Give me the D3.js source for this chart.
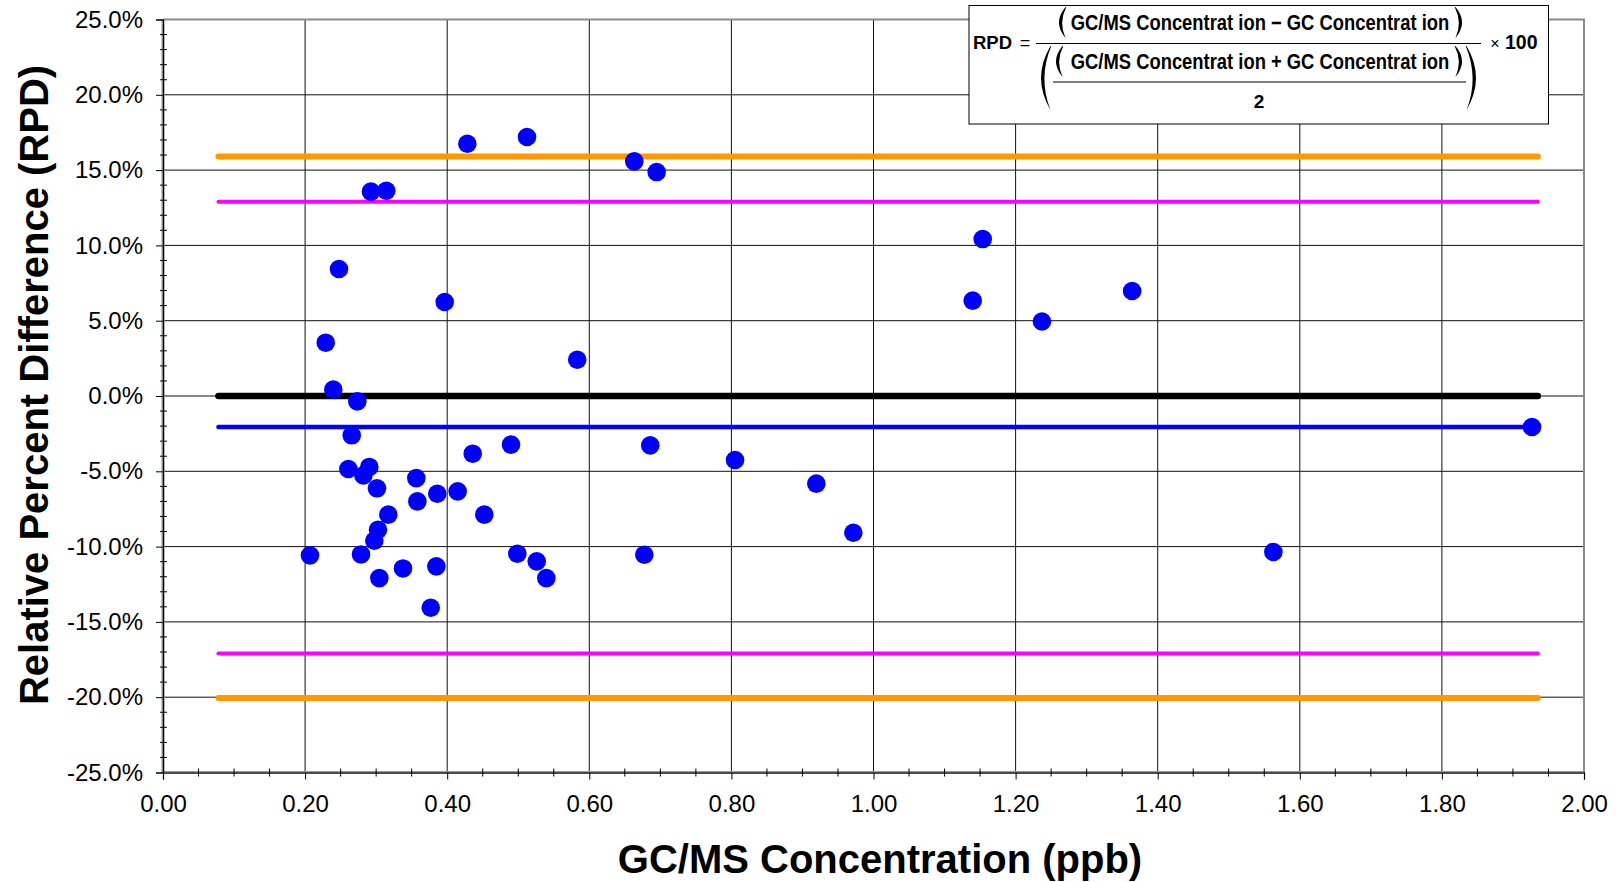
<!DOCTYPE html>
<html>
<head>
<meta charset="utf-8">
<script src="https://cdn.jsdelivr.net/npm/d3@7"></script>
<style>
  html, body { margin: 0; padding: 0; background: #fff; }
  svg { display: block; font-family: "Liberation Sans", Arial, sans-serif; }
</style>
</head>
<body>
<svg id="chart" width="1621" height="882"></svg>
<script>
// ---- Data ----------------------------------------------------------------
// GC/MS concentration (ppb) for each sample pair
const concentration = [
  0.2069, 0.2290, 0.2397, 0.2477, 0.2609, 0.2656, 0.2735, 0.2787, 0.2820, 0.2904,
  0.2927, 0.2974, 0.3012, 0.3026, 0.3045, 0.3143, 0.3171, 0.3378, 0.3565, 0.3580,
  0.3768, 0.3847, 0.3860, 0.3965, 0.4147, 0.4283, 0.4359, 0.4522, 0.4898, 0.4987,
  0.5123, 0.5260, 0.5395, 0.5830, 0.6633, 0.6774, 0.6858, 0.6948, 0.8051, 0.9195,
  0.9716, 1.1396, 1.1537, 1.2371, 1.3640, 1.5628, 1.9268
];
// Relative percent difference (%) for each sample pair
const rpd = [
  -10.58, 3.54, 0.42, 8.43, -4.85, -2.61, -0.36, -10.52, -5.27, -4.71,
  13.57, -9.61, -6.13, -8.88, -12.09, 13.63, -7.88, -11.45, -5.45, -7.00,
  -14.06, -11.31, -6.49, 6.24, -6.33, 16.75, -3.83, -7.88, -3.23, -10.47,
  17.20, -10.98, -12.09, 2.41, 15.58, -10.54, -3.28, 14.87, -4.25, -5.82,
  -9.08, 6.33, 10.42, 4.95, 6.97, -10.36, -2.06
];

// Horizontal statistic lines (% RPD) and their x extent (ppb)
const limitNames  = ["upperOuter", "upperInner", "zero", "mean", "lowerInner", "lowerOuter"];
const limitValues = [15.9, 12.9, 0.0, -2.06, -17.1, -20.05];
const limitStart = 0.078;
const limitEnd   = 1.935;

// Axis ticks
const xTicks = [0.0, 0.2, 0.4, 0.6, 0.8, 1.0, 1.2, 1.4, 1.6, 1.8, 2.0];
const yTicks = [-25, -20, -15, -10, -5, 0, 5, 10, 15, 20, 25];

// ---- Styles --------------------------------------------------------------
const limitStyle = {
  upperOuter: { color: "#FF9900", width: 6 },
  lowerOuter: { color: "#FF9900", width: 6 },
  upperInner: { color: "#FF00FF", width: 4 },
  lowerInner: { color: "#FF00FF", width: 4 },
  zero:       { color: "#000000", width: 6.5 },
  mean:       { color: "#0000FF", width: 4.5 }
};

// ---- Layout --------------------------------------------------------------
const plot = { left: 163, right: 1584, top: 19.5, bottom: 772.5 };
const svg = d3.select("#chart");

const x = d3.scaleLinear().domain([0, 2]).range([plot.left, plot.right]);
const y = d3.scaleLinear().domain([-25, 25]).range([plot.bottom, plot.top]);

// Gridlines
const grid = svg.append("g").attr("class", "grid");
grid.selectAll("line.h").data(yTicks).join("line")
  .attr("class", "h")
  .attr("x1", plot.left).attr("x2", plot.right)
  .attr("y1", d => y(d)).attr("y2", d => y(d))
  .attr("stroke", "#111").attr("stroke-width", 1);
grid.selectAll("line.v").data(xTicks).join("line")
  .attr("class", "v")
  .attr("x1", d => x(d)).attr("x2", d => x(d))
  .attr("y1", plot.top).attr("y2", plot.bottom)
  .attr("stroke", "#111").attr("stroke-width", 1);

// Plot frame (top and right edges in grey)
svg.append("path")
  .attr("d", `M${plot.left},${plot.top}H${plot.right}V${plot.bottom}`)
  .attr("fill", "none").attr("stroke", "#8a8a8a").attr("stroke-width", 2);

// Axis base lines
svg.append("line")
  .attr("x1", plot.left).attr("x2", plot.right)
  .attr("y1", plot.bottom).attr("y2", plot.bottom)
  .attr("stroke", "#999").attr("stroke-width", 3);
svg.append("line")
  .attr("x1", plot.left).attr("x2", plot.left)
  .attr("y1", plot.top).attr("y2", plot.bottom)
  .attr("stroke", "#999").attr("stroke-width", 3);

// Minor ticks crossing the axes
const xMinor = d3.range(0.05, 2.0, 0.05).filter(v => Math.abs(v * 5 - Math.round(v * 5)) > 1e-6);
const yMinor = d3.range(-24, 25, 1).filter(v => v % 5 !== 0);
svg.append("g").selectAll("line").data(xMinor).join("line")
  .attr("x1", d => x(d)).attr("x2", d => x(d))
  .attr("y1", plot.bottom - 4).attr("y2", plot.bottom + 4)
  .attr("stroke", "#000").attr("stroke-width", 1);
svg.append("g").selectAll("line").data(yMinor).join("line")
  .attr("x1", plot.left - 3).attr("x2", plot.left + 4)
  .attr("y1", d => y(d)).attr("y2", d => y(d))
  .attr("stroke", "#000").attr("stroke-width", 1);

// Major axes
const xAxis = svg.append("g")
  .attr("transform", `translate(0,${plot.bottom})`)
  .call(d3.axisBottom(x).tickValues(xTicks).tickSize(7).tickFormat(d3.format(".2f")));
const yAxis = svg.append("g")
  .attr("transform", `translate(${plot.left},0)`)
  .call(d3.axisLeft(y).tickValues(yTicks).tickSize(7).tickFormat(d => d.toFixed(1) + "%"));

[xAxis, yAxis].forEach(g => {
  g.select(".domain").attr("stroke", "#000").attr("stroke-width", 1.2);
  g.selectAll(".tick line").attr("stroke", "#000").attr("stroke-width", 1);
  g.selectAll(".tick text")
    .attr("fill", "#000")
    .style("font-family", "'Liberation Sans', Arial, sans-serif")
    .style("font-size", "24px");
});
xAxis.selectAll(".tick text").attr("y", 22);
yAxis.selectAll(".tick text").attr("x", -20);

// Statistic lines
const limits = limitNames.map((n, i) => ({ name: n, value: limitValues[i] }));
const drawOrder = ["upperOuter", "lowerOuter", "upperInner", "lowerInner", "zero", "mean"];
svg.append("g").selectAll("line")
  .data(drawOrder.map(n => limits.find(l => l.name === n)))
  .join("line")
  .attr("x1", x(limitStart)).attr("x2", x(limitEnd))
  .attr("y1", d => y(d.value)).attr("y2", d => y(d.value))
  .attr("stroke", d => limitStyle[d.name].color)
  .attr("stroke-width", d => limitStyle[d.name].width)
  .attr("stroke-linecap", "round");

// Sample points
const points = concentration.map((c, i) => ({ c, r: rpd[i] }));
svg.append("g").selectAll("circle").data(points).join("circle")
  .attr("cx", d => x(d.c))
  .attr("cy", d => y(d.r))
  .attr("r", 9.3)
  .attr("fill", "#0000FF");

// Axis titles
svg.append("text")
  .attr("transform", `translate(48,385) rotate(-90)`)
  .attr("text-anchor", "middle")
  .style("font-weight", "bold").style("font-size", "40px")
  .text("Relative Percent Difference (RPD)");
svg.append("text")
  .attr("x", 880).attr("y", 873)
  .attr("text-anchor", "middle")
  .style("font-weight", "bold").style("font-size", "40px")
  .text("GC/MS Concentration (ppb)");

// ---- RPD formula box -----------------------------------------------------
const fb = svg.append("g").attr("class", "formula");
fb.append("rect")
  .attr("x", 969).attr("y", 5.5).attr("width", 579.5).attr("height", 118.5)
  .attr("fill", "#fff").attr("stroke", "#000").attr("stroke-width", 1);

// crescent-shaped bracket
function paren(edgeX, top, bottom, w, t, open) {
  const mid = (top + bottom) / 2;
  const s = open ? 1 : -1;
  const endX = edgeX + s * w;
  return `M${endX},${top}` +
    `Q${edgeX - s * w},${mid} ${endX},${bottom}` +
    `Q${edgeX - s * w + s * 2 * t},${mid} ${endX + s * 0.8},${top}Z`;
}
function drawParen(edgeX, top, bottom, w, t, open) {
  fb.append("path").attr("d", paren(edgeX, top, bottom, w, t, open)).attr("fill", "#000");
}
// slightly tall bold term text, centred at (cx, baseline)
function termText(cx, baseline, str) {
  fb.append("text")
    .attr("transform", `translate(${cx},${baseline}) scale(1,1.15)`)
    .attr("text-anchor", "middle")
    .style("font-weight", "bold").style("font-size", "18.4px")
    .text(str);
}

fb.append("text").attr("x", 973).attr("y", 48.5)
  .style("font-weight", "bold").style("font-size", "18.5px").text("RPD");
fb.append("text").attr("x", 1025).attr("y", 48.5).attr("text-anchor", "middle")
  .style("font-size", "18px").text("=");

// numerator
drawParen(1059, 7, 38, 6.5, 3, true);
drawParen(1462, 7, 38, 6.5, 3, false);
termText(1260, 30, "GC/MS  Concentrat ion  \u2212  GC Concentrat ion");

// main fraction bar
fb.append("line").attr("x1", 1036).attr("x2", 1481).attr("y1", 43.5).attr("y2", 43.5)
  .attr("stroke", "#000").attr("stroke-width", 1);
fb.append("text").attr("x", 1495).attr("y", 48.5).attr("text-anchor", "middle")
  .style("font-size", "16px").text("\u00d7");
fb.append("text").attr("x", 1505).attr("y", 49)
  .style("font-weight", "bold").style("font-size", "19.5px").text("100");

// denominator
drawParen(1041, 46, 110, 9.5, 3.2, true);
drawParen(1476, 46, 110, 9.5, 3.2, false);
drawParen(1056, 46, 77, 6.5, 3, true);
drawParen(1462, 46, 77, 6.5, 3, false);
termText(1260, 69, "GC/MS  Concentrat ion  +  GC  Concentrat ion");
fb.append("line").attr("x1", 1053).attr("x2", 1466).attr("y1", 82).attr("y2", 82)
  .attr("stroke", "#000").attr("stroke-width", 1);
fb.append("text").attr("x", 1259).attr("y", 107.5).attr("text-anchor", "middle")
  .style("font-weight", "bold").style("font-size", "19px").text("2");
</script>
</body>
</html>
